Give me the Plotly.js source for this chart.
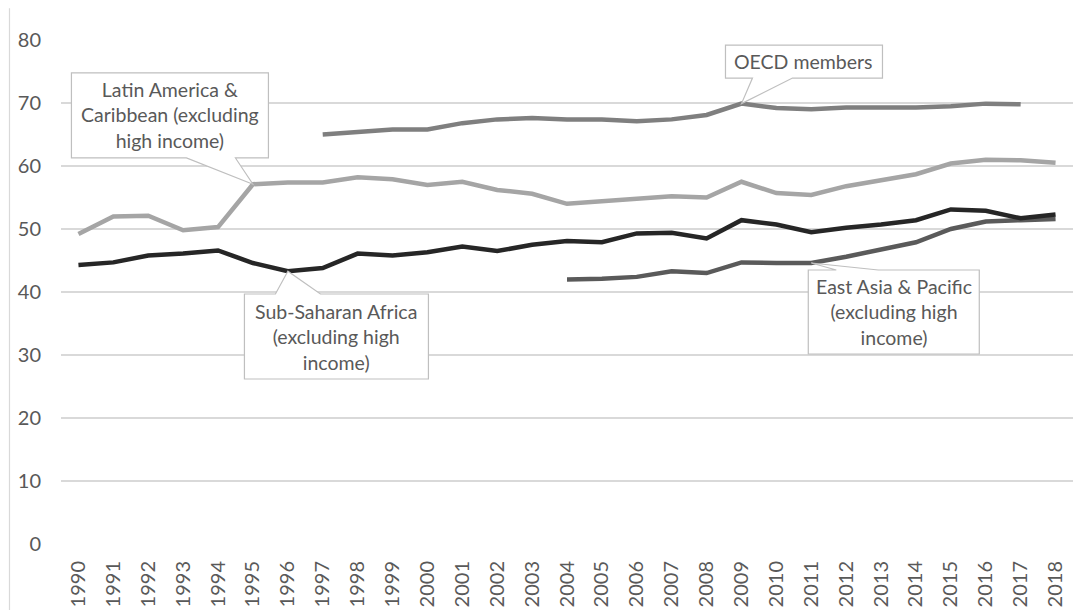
<!DOCTYPE html>
<html>
<head>
<meta charset="utf-8">
<script src="https://cdn.plot.ly/plotly-3.0.1.min.js"></script>
<style>html,body{margin:0;padding:0;background:#fff;}#chart{width:1084px;height:610px;}</style>
</head>
<body>
<div id="chart"></div>
<script>
var years = ["1990","1991","1992","1993","1994","1995","1996","1997","1998","1999","2000","2001","2002","2003","2004","2005","2006","2007","2008","2009","2010","2011","2012","2013","2014","2015","2016","2017","2018"];

var ssaYears = years;
var ssaValues = [44.3,44.7,45.8,46.1,46.6,44.6,43.3,43.8,46.1,45.8,46.3,47.2,46.5,47.5,48.1,47.9,49.3,49.4,48.5,51.4,50.7,49.5,50.2,50.7,51.4,53.1,52.9,51.7,52.3];

var latamYears = years;
var latamValues = [49.2,52.0,52.1,49.8,50.3,57.1,57.4,57.4,58.2,57.9,57.0,57.5,56.2,55.6,54.0,54.4,54.7,55.2,55.0,57.5,55.7,55.4,56.8,57.7,58.7,60.4,61.0,60.9,60.5];

var oecdYears = ["1997","1998","1999","2000","2001","2002","2003","2004","2005","2006","2007","2008","2009","2010","2011","2012","2013","2014","2015","2016","2017"];
var oecdValues = [65.0,65.4,65.8,65.8,66.8,67.4,67.6,67.4,67.4,67.1,67.4,68.1,69.9,69.2,69.0,69.3,69.3,69.3,69.5,69.9,69.8];

var eapYears = ["2004","2005","2006","2007","2008","2009","2010","2011","2012","2013","2014","2015","2016","2017","2018"];
var eapValues = [42.0,42.1,42.4,43.3,43.0,44.7,44.6,44.6,45.6,46.8,47.9,50.0,51.2,51.4,51.6];

var yTicks = [0,10,20,30,40,50,60,70,80];

var labelLatam = "Latin America &<br>Caribbean (excluding<br>high income)";
var labelSsa = "Sub-Saharan Africa<br>(excluding high<br>income)";
var labelOecd = "OECD members";
var labelEap = "East Asia & Pacific<br>(excluding high<br>income)";

var FONT = "Lato, 'Open Sans', sans-serif";
var TXT = "#595959";

function tr(x, y, color, name) {
  return {type:"scatter", mode:"lines", x:x, y:y, name:name,
    line:{color:color, width:4.5, shape:"linear"}, hoverinfo:"skip"};
}

var data = [
  tr(latamYears, latamValues, "#a5a5a5", "Latin America & Caribbean"),
  tr(oecdYears, oecdValues, "#7f7f7f", "OECD members"),
  tr(eapYears, eapValues, "#5a5a5a", "East Asia & Pacific"),
  tr(ssaYears, ssaValues, "#262626", "Sub-Saharan Africa")
];

function valAt(xs, ys, yr){ return ys[xs.indexOf(yr)]; }

// callout outline: tip at the data point, box corners as pixel offsets (y up)
function callout(xs, ys, yr, left, right, near, far, bA, bB) {
  var p = "M0,0 L"+bA+","+near+" L"+left+","+near+" L"+left+","+far+" L"+right+","+far+" L"+right+","+near+" L"+bB+","+near+" Z";
  return {type:"path", xref:"x", yref:"y", xsizemode:"pixel", ysizemode:"pixel",
    xanchor:years.indexOf(yr), yanchor:valAt(xs, ys, yr), path:p,
    fillcolor:"#ffffff", line:{color:"#bfbfbf", width:1.2}, layer:"above"};
}
function label(xs, ys, yr, text, dx, dy) {
  return {x:years.indexOf(yr), y:valAt(xs, ys, yr), xref:"x", yref:"y", text:text, showarrow:false,
    xshift:dx, yshift:dy, xanchor:"center", yanchor:"middle", align:"center",
    font:{family:FONT, size:19.5, color:TXT}};
}

var shapes = [
  callout(latamYears, latamValues, "1995", -181.5, 15.5, 26.3, 111.3, -66.5, -17.5),
  callout(ssaYears, ssaValues, "1996", -43.4, 140.6, -22.8, -107.8, -12.4, 32.6),
  callout(oecdYears, oecdValues, "2009", -16, 141, 25.6, 58.6, 11, 51),
  callout(eapYears, eapValues, "2011", -3, 168, -7, -91, 25, 67),
  {type:"line", xref:"paper", yref:"paper", x0:-0.0509, x1:-0.0509, y0:-0.14, y1:1.063,
   line:{color:"#d9d9d9", width:1.2}, layer:"above"}
];

var annotations = [
  label(latamYears, latamValues, "1995", labelLatam, -83, 68.8),
  label(ssaYears, ssaValues, "1996", labelSsa, 48.6, -65.3),
  label(oecdYears, oecdValues, "2009", labelOecd, 62.5, 42.1),
  label(eapYears, eapValues, "2011", labelEap, 82.5, -49)
];

var layout = {
  width:1084, height:610,
  margin:{l:61, r:11, t:40, b:66, pad:0},
  paper_bgcolor:"#ffffff", plot_bgcolor:"#ffffff",
  showlegend:false,
  font:{family:FONT, color:TXT},
  xaxis:{type:"category", categoryorder:"array", categoryarray:years,
    range:[-0.5, 28.5], showgrid:false, zeroline:false, showline:false,
    tickangle:-90, ticks:"", ticklabelstandoff:12,
    tickfont:{family:FONT, size:20, color:TXT}, fixedrange:true},
  yaxis:{range:[0,80], tickvals:yTicks, ticktext:yTicks.map(String),
    showgrid:true, gridcolor:"#d9d9d9", gridwidth:1.2, zeroline:false, showline:false,
    ticks:"", ticklabelstandoff:19,
    tickfont:{family:FONT, size:20, color:TXT}, fixedrange:true},
  shapes:shapes,
  annotations:annotations
};

Plotly.newPlot("chart", data, layout, {staticPlot:true, displayModeBar:false});
</script>
</body>
</html>
